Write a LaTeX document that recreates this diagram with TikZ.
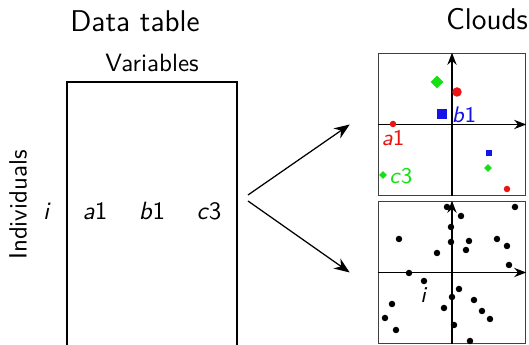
\documentclass[tikz,border=0pt]{standalone}
\usepackage{tikz}
\usetikzlibrary{arrows.meta, positioning, shapes.geometric}
\definecolor{ptred}{RGB}{235, 20, 20}
\definecolor{ptblue}{RGB}{20, 20, 230}
\definecolor{ptgreen}{RGB}{20, 225, 20}
\tikzset{
  >=Stealth,
  titletext/.style={font=\sffamily\large},
  tableline/.style={draw, line width=1pt, minimum width=68pt, minimum height=111.2pt, inner sep=0pt},
  cloudbox/.style={draw=black!75, line width=0.6pt, minimum width=58.8pt, minimum height=56.8pt, inner sep=0pt},
  axisline/.style={-{Stealth[length=1.7mm, width=1.3mm]}, line width=0.5pt},
  flowarrow/.style={-{Stealth[length=2.2mm, width=1.7mm]}, line width=0.5pt},
  cloudlabel/.style={font=\sffamily\small, inner sep=1pt},
  bigdot/.style={circle, fill=ptred, inner sep=0pt, minimum size=3.8pt},
  smalldot/.style={circle, fill=ptred, inner sep=0pt, minimum size=2.6pt},
  bigsquare/.style={rectangle, fill=ptblue, inner sep=0pt, minimum size=4pt},
  smallsquare/.style={rectangle, fill=ptblue, inner sep=0pt, minimum size=2.4pt},
  bigdiamond/.style={diamond, fill=ptgreen, inner sep=0pt, minimum size=5.2pt},
  smalldiamond/.style={diamond, fill=ptgreen, inner sep=0pt, minimum size=3.2pt},
  indot/.style={circle, fill=black, inner sep=0pt, minimum size=2.6pt}
}
\begin{document}
\begin{tikzpicture}[x=0.4pt, y=-0.4pt, font=\sffamily]
    \clip (0,0) rectangle (529,345);
    % titles
    \node (datatitle) [titletext] at (135,21) {Data table};
    \node (cloudtitle) [titletext] at (487,19) {Clouds};
    % data table
    \node (table) [tableline] at (152,221) {};
    \node (vars) [above=0.2pt of table.north] {Variables};
    \node (indiv) [rotate=90] at (18,205) {Individuals};
    \node (rowi) at (47,211) {\textit{i}};
    \node (cola) at (95,211) {\textit{a}1};
    \node (colb) at (152,211) {\textit{b}1};
    \node (colc) at (209,211) {\textit{c}3};
    % clouds
    \node (cloudtop) [cloudbox] at (452,124.5) {};
    \node (cloudbot) [cloudbox] at (452,272.5) {};
    \draw[axisline] (cloudtop.south) -- (cloudtop.north);
    \draw[axisline] (cloudtop.west) -- (cloudtop.east);
    \draw[axisline] (cloudbot.south) -- (cloudbot.north);
    \draw[axisline] (cloudbot.west) -- (cloudbot.east);
    % arrows
    \coordinate (forktop) at (248,195);
    \coordinate (forkbot) at (248,201);
    \draw[flowarrow] (forktop) -- ([xshift=-11.2pt]cloudtop.west);
    \draw[flowarrow] (forkbot) -- ([xshift=-11.2pt]cloudbot.west);
    % cloud of categories
    \node (ga) [bigdiamond] at (437,82) {};
    \node (ra) [bigdot] at (457,92) {};
    \node (ba) [bigsquare] at (442,114) {};
    \node (rb) [smalldot] at (393,124) {};
    \node (bb) [smallsquare] at (489,153) {};
    \node (gb) [smalldiamond] at (488,168) {};
    \node (rc) [smalldot] at (507,189) {};
    \node (gc) [smalldiamond] at (383,175) {};
    \node[cloudlabel, text=ptblue] at (464,115) {\textit{b}1};
    \node[cloudlabel, text=ptred] at (393,138) {\textit{a}1};
    \node[cloudlabel, text=ptgreen] at (401,176) {\textit{c}3};
    % cloud of individuals
    \foreach \px/\py in {447/207, 461/216, 515/207, 451/227, 399/239, 451/242, 469/241,
        497/239, 507/246, 466/250, 437/253, 509/265, 409/273, 424/281, 459/289,
        452/297, 392/304, 474/300, 444/308, 482/311, 385/318, 490/319, 396/330,
        454/325, 470/341}
        \node[indot] at (\px,\py) {};
    \node[cloudlabel] at (424,295) {\textit{i}};
\end{tikzpicture}
\end{document}
